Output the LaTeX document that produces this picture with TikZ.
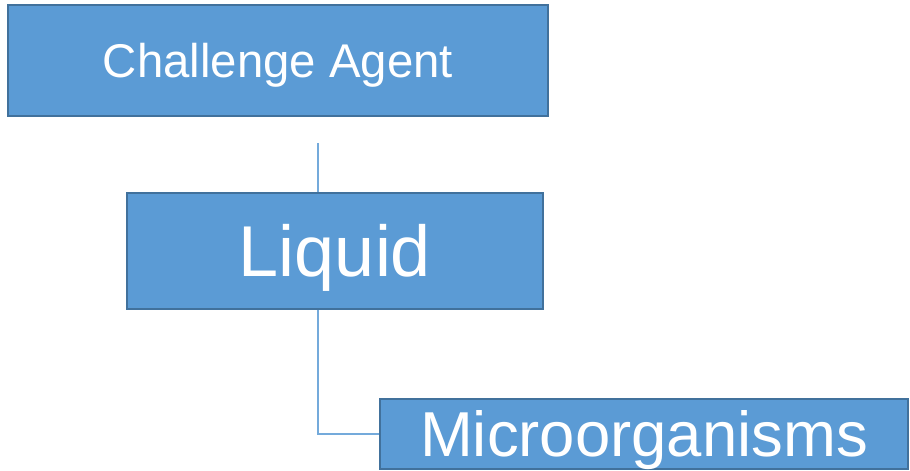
\documentclass[tikz,border=0pt]{standalone}
\usepackage{fontspec}
\setmainfont{Liberation Sans}
\usepackage{xcolor}
\usepackage{tikz}
\usetikzlibrary{positioning,calc}
\definecolor{boxfill}{HTML}{5B9BD5}
\definecolor{boxline}{HTML}{41719C}
\tikzset{
	box/.style = {
			rectangle,
			fill      = boxfill,
			draw      = boxline,
			line width = 1.8pt,
			text      = white,
			inner sep = 0pt,
			text depth = 0pt,
		},
	link/.style = {draw=boxfill!85, line width=0.8pt}
}

\begin{document}
\begin{tikzpicture}[x=0.75pt, y=-0.75pt]
			\useasboundingbox[fill=white] (0,0) rectangle (910,471);

			% boxes
			\node[box, minimum width=405pt, minimum height=83pt, text height=25.4pt, font=\fontsize{35.5}{40}\selectfont] (agent) at (278, 60.5) {Challenge Agent};
			\node[box, minimum width=312pt, minimum height=87pt, text height=38.7pt, font=\fontsize{54}{60}\selectfont] (liquid) at (335, 251) {Liquid};
			\node[box, minimum width=396pt, minimum height=52.5pt, text height=34.1pt, font=\fontsize{47.6}{52}\selectfont] (micro) at (644, 434) {Microorganisms};

			% connectors
			\coordinate (top) at (318, 143);
			\draw[link] (top) -- (liquid.north -| top);
			\draw[link] (liquid.south -| top) |- (micro.west);
		\end{tikzpicture}
\end{document}
